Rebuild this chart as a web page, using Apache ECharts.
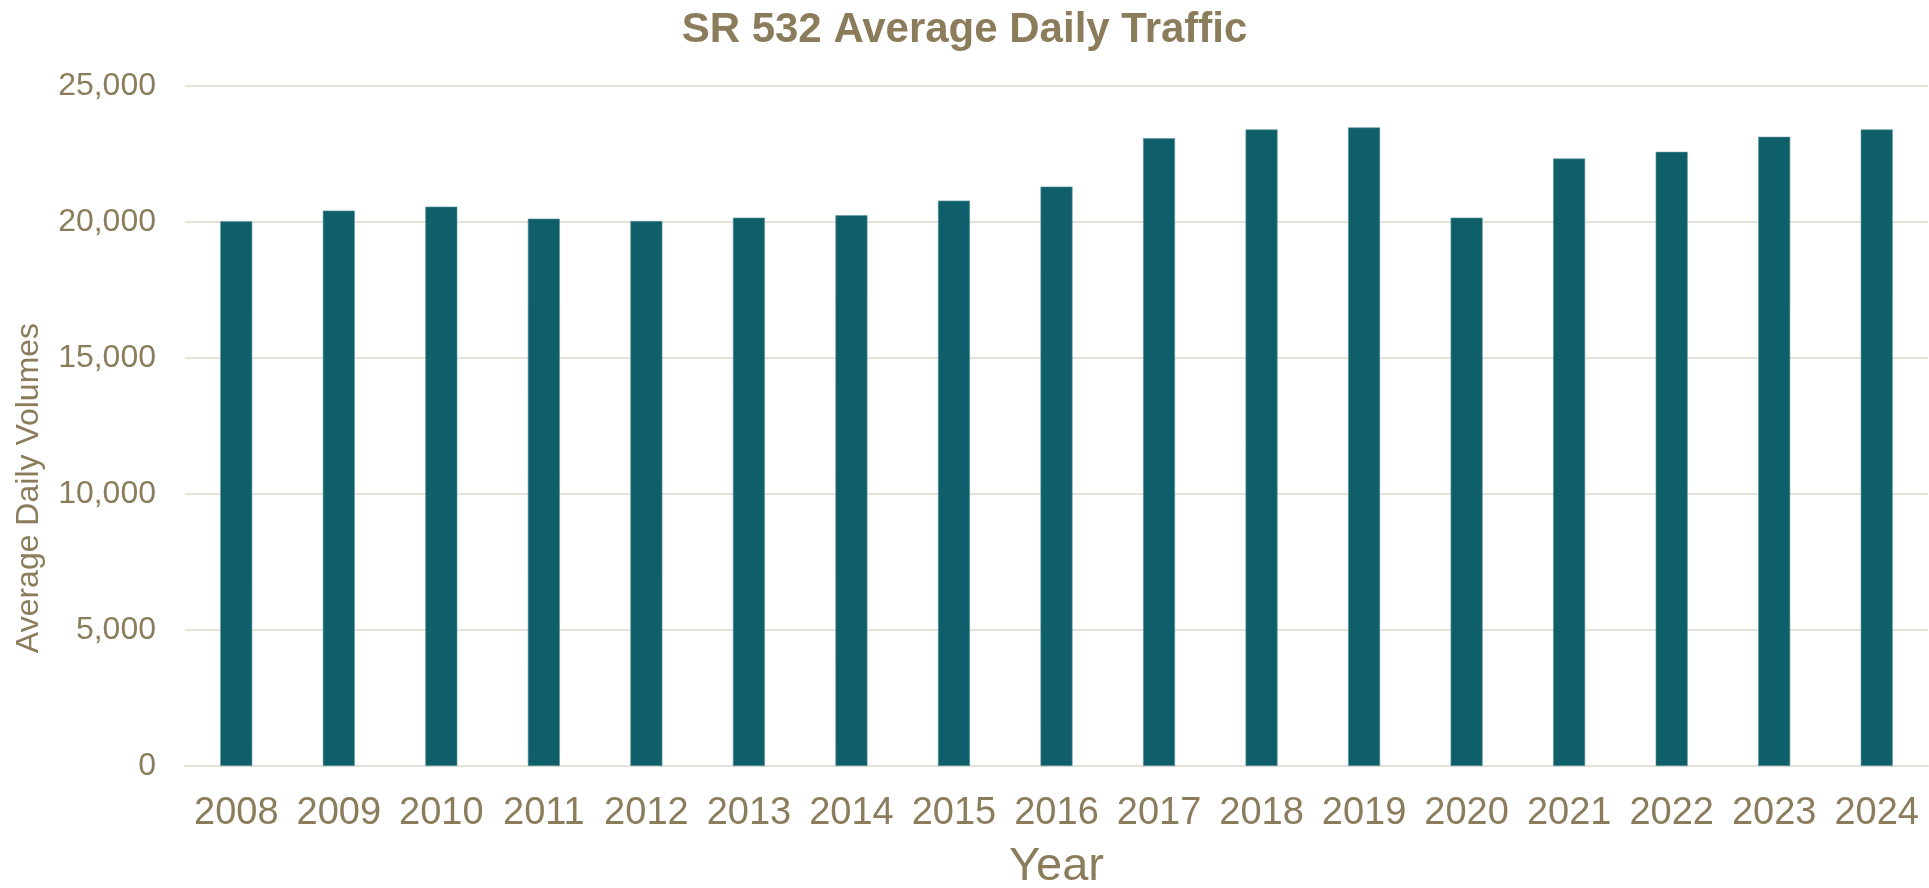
<!DOCTYPE html>
<html>
<head>
<meta charset="utf-8">
<script src="https://cdn.jsdelivr.net/npm/echarts@6/dist/echarts.min.js"></script>
<style>
  html, body { margin: 0; padding: 0; background: #fff; }
  #chart { width: 1929px; height: 888px; }
</style>
</head>
<body>
<div id="chart"></div>
<script>
const years = ['2008', '2009', '2010', '2011', '2012', '2013', '2014', '2015', '2016',
    '2017', '2018', '2019', '2020', '2021', '2022', '2023', '2024'];
const volumes = [20025, 20420, 20565, 20123, 20037, 20160, 20246, 20786, 21302,
    23084, 23403, 23477, 20160, 22334, 22580, 23133, 23403];

const textColor = '#8b7d5c';
const gridColor = '#e6e2d8';
const barColor = '#0f5f6b';

const myChart = echarts.init(document.getElementById('chart'));
const option = {
    backgroundColor: '#ffffff',
    animation: false,
    title: {
        text: 'SR 532 Average Daily Traffic',
        left: 'center',
        top: 4,
        textStyle: {
            color: textColor,
            fontFamily: 'Liberation Sans',
            fontWeight: 'bold',
            fontSize: 42
        }
    },
    grid: {
        top: 86,
        left: 185,
        right: 1,
        bottom: 122,
        outerBoundsMode: 'none'
    },
    xAxis: {
        type: 'category',
        data: years,
        name: 'Year',
        nameLocation: 'middle',
        nameGap: 78,
        nameTextStyle: {
            color: textColor,
            fontFamily: 'Liberation Sans',
            fontSize: 47
        },
        axisLine: {lineStyle: {color: gridColor, width: 2}},
        axisTick: {show: false},
        axisLabel: {
            interval: 0,
            color: textColor,
            fontFamily: 'Liberation Sans',
            fontSize: 38,
            margin: 29
        }
    },
    yAxis: {
        type: 'value',
        min: 0,
        max: 25000,
        interval: 5000,
        name: 'Average Daily Volumes',
        nameLocation: 'middle',
        nameGap: 140,
        nameTextStyle: {
            color: textColor,
            fontFamily: 'Liberation Sans',
            fontSize: 32,
            padding: [0, 124, 0, 0]
        },
        axisLine: {show: false},
        axisTick: {show: false},
        splitLine: {lineStyle: {color: gridColor, width: 2}},
        axisLabel: {
            color: textColor,
            fontFamily: 'Liberation Sans',
            fontSize: 32,
            margin: 29,
            formatter: function (v) {
                return v.toLocaleString('en-US');
            }
        }
    },
    series: [
        {
            type: 'bar',
            data: volumes,
            barWidth: 32,
            itemStyle: {
                color: barColor,
                borderColor: '#5f96a0',
                borderWidth: 0.6
            }
        }
    ]
};
myChart.setOption(option);
</script>
</body>
</html>
